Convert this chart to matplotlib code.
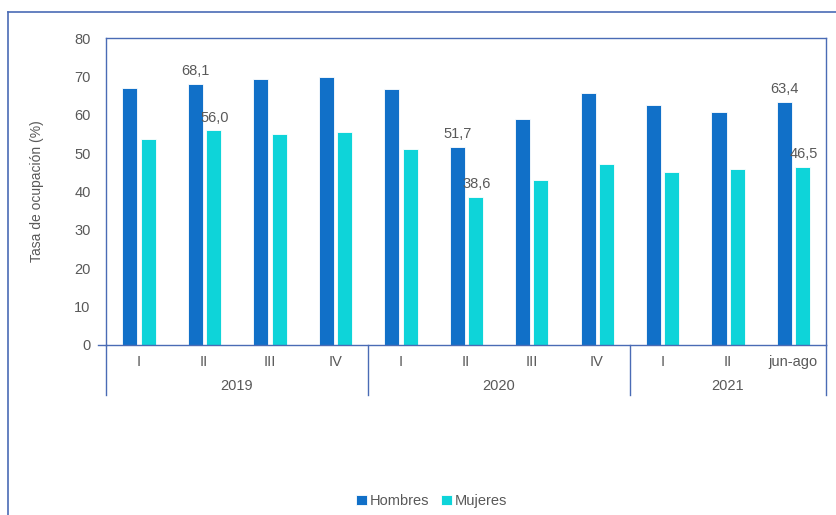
import numpy as np
import matplotlib.pyplot as plt
from matplotlib.lines import Line2D

plt.rcParams['font.family'] = ['Liberation Sans', 'DejaVu Sans']

# Tasa de ocupación por trimestre y sexo
trimestres = ["I", "II", "III", "IV", "I", "II", "III", "IV", "I", "II", "jun-ago"]
anios = ["2019", "2020", "2021"]
trimestres_por_anio = [4, 4, 3]
hombres = [67.0, 68.1, 69.2, 69.8, 66.6, 51.7, 58.9, 65.7, 62.6, 60.7, 63.4]
mujeres = [53.7, 56.0, 55.0, 55.5, 51.1, 38.6, 43.0, 47.2, 45.1, 45.9, 46.5]
# barras con etiqueta de valor (índice de trimestre)
etiq_hombres = [1, 5, 10]
etiq_mujeres = [1, 5, 10]

c_hom = "#1170C8"
c_muj = "#0ED4D9"
c_txt = "#595959"
c_eje = "#4A6BB5"

W, H = 837, 515
fig = plt.figure(figsize=(W / 100, H / 100), dpi=100)

x0, x1, y0, y1 = 106, 826, 345, 38
ax = fig.add_axes([x0 / W, 1 - y0 / H, (x1 - x0) / W, (y0 - y1) / H])

x = np.arange(len(trimestres))
ancho = 0.23
b1 = ax.bar(x - 0.135, hombres, ancho, color=c_hom, edgecolor="white", linewidth=0.6, zorder=2)
b2 = ax.bar(x + 0.145, mujeres, ancho, color=c_muj, edgecolor="white", linewidth=0.6, zorder=2)

for i in etiq_hombres:
    ax.text(x[i] - 0.135, hombres[i] + 1.4, f"{hombres[i]:.1f}".replace(".", ","),
            ha="center", va="bottom", fontsize=10.5, color=c_txt, zorder=3)
for i in etiq_mujeres:
    ax.text(x[i] + 0.16, mujeres[i] + 1.4, f"{mujeres[i]:.1f}".replace(".", ","),
            ha="center", va="bottom", fontsize=10.5, color=c_txt, zorder=3)

ax.set_xlim(-0.5, len(trimestres) - 0.5)
ax.set_ylim(0, 80)
ax.set_yticks(range(0, 81, 10))
ax.tick_params(axis="y", length=0, labelsize=10.5, labelcolor=c_txt, pad=11)
ax.set_xticks([])
ax.set_ylabel("Tasa de ocupación (%)", fontsize=10, color=c_txt, labelpad=22)
for s in ax.spines.values():
    s.set_color(c_eje)
    s.set_linewidth(1.0)

# etiquetas de trimestre y año bajo el eje
for i, t in enumerate(trimestres):
    ax.text(x[i], -4.3, t, ha="center", va="center", fontsize=10.5, color=c_txt, clip_on=False)

inicio = -0.5
for anio, n in zip(anios, trimestres_por_anio):
    fin = inicio + n
    ax.text((inicio + fin) / 2, -10.6, anio, ha="center", va="center", fontsize=10.5,
            color=c_txt, clip_on=False)
    inicio = fin

# separadores verticales de años
bordes = np.concatenate([[-0.5], -0.5 + np.cumsum(trimestres_por_anio)])
for b in bordes:
    ax.plot([b, b], [0, -13], color=c_eje, lw=1.0, clip_on=False)
ax.plot([-0.5, -0.62], [0, 0], color=c_eje, lw=1.0, clip_on=False)

# marco exterior del gráfico
fig.add_artist(Line2D([8 / W, 8 / W], [0, 1 - 12 / H], color=c_eje, lw=1.2))
fig.add_artist(Line2D([8 / W, 1], [1 - 12 / H, 1 - 12 / H], color=c_eje, lw=1.2))

fig.legend([b1, b2], ["Hombres", "Mujeres"], loc="center", bbox_to_anchor=(432 / W, 1 - 501 / H),
           ncol=2, frameon=False, fontsize=10.5, labelcolor=c_txt, handlelength=0.7,
           handleheight=0.7, handletextpad=0.25, columnspacing=0.8)

fig.savefig("out.png", dpi=100)
